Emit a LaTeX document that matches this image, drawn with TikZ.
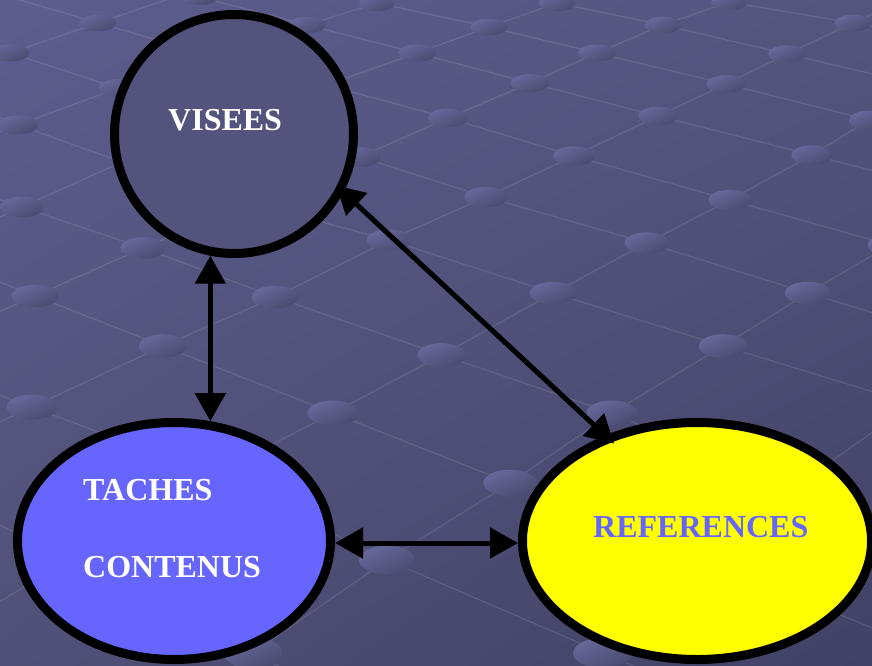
\documentclass[tikz,border=0pt]{standalone}
\usepackage{fontspec}
\setmainfont{Liberation Serif}
\usetikzlibrary{arrows.meta,shapes.geometric,shadings,calc}
\definecolor{bgUL}{RGB}{93,93,142}
\definecolor{bgUR}{RGB}{84,84,127}
\definecolor{bgLL}{RGB}{80,80,120}
\definecolor{bgLR}{RGB}{66,66,102}
\definecolor{dotTop}{RGB}{104,104,155}
\definecolor{dotBot}{RGB}{74,74,112}
\definecolor{circFill}{RGB}{83,83,125}
\definecolor{tBlue}{RGB}{102,102,255}
\definecolor{yel}{RGB}{255,255,0}
\begin{document}
\begin{tikzpicture}[x=1pt,y=-1pt,
  gridline/.style={white, opacity=0.10, line width=1.3pt},
  blob/.style={ellipse, draw=black, line width=9pt, inner sep=0pt},
  lbl/.style={inner sep=0pt, anchor=base west, text=white, font=\bfseries\fontsize{32}{38}\selectfont},
  arr/.style={line width=5pt, {Triangle[length=28pt,width=30pt]}-{Triangle[length=28pt,width=30pt]}}]
\useasboundingbox (0,0) rectangle (872,666);
\shade[upper left=bgUL, upper right=bgUR, lower left=bgLL, lower right=bgLR] (0,0) rectangle (872,666);
\begin{scope}
\clip (0,0) rectangle (872,666);
% up-right grid lines
\draw[gridline] (-20,63) -- (10,53) -- (98,23) -- (166,0) -- (200,-12);
\draw[gridline] (-20,139) -- (18,125) -- (118,88) -- (216,57) -- (307,25) -- (377,3) -- (400,-5);
\draw[gridline] (-20,226) -- (22,207) -- (122,162) -- (220,120) -- (326,85) -- (417,53) -- (489,27) -- (557,3) -- (575,-4);
\draw[gridline] (-20,320) -- (35,296) -- (143,248) -- (250,203) -- (360,157) -- (448,118) -- (530,83) -- (597,53) -- (663,25) -- (729,2) -- (750,-6);
\draw[gridline] (-20,431) -- (32,407) -- (163,346) -- (275,297) -- (389,240) -- (486,197) -- (574,156) -- (658,116) -- (726,84) -- (787,54) -- (853,23) -- (890,6);
\draw[gridline] (-20,613) -- (70,560) -- (213,475) -- (333,413) -- (442,355) -- (553,293) -- (647,243) -- (730,200) -- (812,155) -- (869,120) -- (890,108);
\draw[gridline] (200,690) -- (253,653) -- (387,560) -- (510,483) -- (612,413) -- (723,346) -- (808,293) -- (890,245);
\draw[gridline] (570,690) -- (603,653) -- (700,558) -- (790,490) -- (890,420);
% down-right grid lines
\draw[gridline] (700,-8) -- (729,2) -- (853,23) -- (890,29);
\draw[gridline] (530,-4) -- (557,3) -- (663,25) -- (787,54) -- (890,78);
\draw[gridline] (350,-5) -- (377,3) -- (489,27) -- (597,53) -- (726,84) -- (869,120) -- (890,125);
\draw[gridline] (170,-12) -- (200,-3) -- (307,25) -- (417,53) -- (530,83) -- (658,116) -- (812,155) -- (890,175);
\draw[gridline] (-20,-12) -- (98,23) -- (216,57) -- (326,85) -- (448,118) -- (574,156) -- (730,200) -- (890,245);
\draw[gridline] (-20,43) -- (10,53) -- (118,88) -- (220,120) -- (360,157) -- (486,197) -- (647,243) -- (808,293) -- (890,318);
\draw[gridline] (-20,110) -- (18,125) -- (122,162) -- (250,203) -- (389,240) -- (553,293) -- (723,346) -- (900,400);
\draw[gridline] (-20,193) -- (22,207) -- (143,248) -- (275,297) -- (442,355) -- (612,413) -- (790,490) -- (900,535);
\draw[gridline] (-20,274) -- (35,296) -- (163,346) -- (333,413) -- (510,483) -- (700,558) -- (890,635);
\draw[gridline] (-20,388) -- (32,407) -- (213,475) -- (387,560) -- (603,653) -- (650,673);
\draw[gridline] (-20,515) -- (70,560) -- (253,653) -- (290,672);
% dots
\foreach \px/\py in {10/53,98/23,200/-3,18/125,118/88,307/25,377/3,22/207,417/53,489/27,557/3,
  35/296,143/248,360/157,448/118,530/83,597/53,663/25,729/2,32/407,163/346,275/297,389/240,
  486/197,574/156,658/116,726/84,787/54,853/23,333/413,442/355,553/293,647/243,730/200,
  812/155,869/120,253/653,387/560,510/483,612/413,723/346,808/293,890/245,603/653}{
  \pgfmathsetmacro\ra{18+0.018*\py}
  \pgfmathsetmacro\rb{8+0.011*\py}
  \shade[top color=dotTop, bottom color=dotBot, shading angle=25]
    (\px,\py) ellipse [x radius=\ra, y radius=\rb];
}
\end{scope}
% main shapes
\node[blob, fill=circFill, minimum width=239pt, minimum height=239pt] (v) at (234,134) {};
\node[blob, fill=tBlue, minimum width=313pt, minimum height=237pt] (t) at (174,541) {};
\node[blob, fill=yel, minimum width=349pt, minimum height=237pt] (r) at (697,541) {};
% labels
\node[lbl] (lv) at (168,130) {VISEES};
\node[lbl] (lt) at (83,500) {TACHES};
\node[lbl] (lc) at (83,577) {CONTENUS};
\node[lbl, text=tBlue] (lr) at (593,537) {REFERENCES};
% connectors
\draw[arr] (v.-101) -- (v.-101 |- t.73);
\draw[arr] ($(t.east)+(0,2)$) -- ($(r.west)+(0,2)$);
\draw[arr, shorten <=-10pt, shorten >=-12pt] (v.-28) -- (r.131);
\end{tikzpicture}
\end{document}
